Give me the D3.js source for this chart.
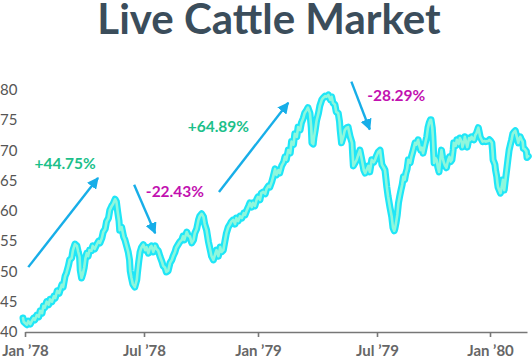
<!DOCTYPE html>
<html><head><meta charset="utf-8">
<script src="https://cdn.jsdelivr.net/npm/d3@7"></script>
<style>
html,body{margin:0;padding:0;background:#fff;}
svg{display:block;font-family:Lato,"Open Sans",sans-serif;}
</style></head>
<body>
<svg id="chart" width="532" height="361"></svg>
<script>
// Days since 1 Jan 1978 and settle price
const dayOffsets = [-3,-2,3,5,8,10,13,15,18,21,23,26,28,30,33,36,38,41,44,46,49,52,56,58,61,63,66,68,71,73,76,79,81,83,84,86,88,90,92,94,96,98,101,103,106,109,112,114,117,119,122,124,127,129,132,134,137,139,141,143,144,147,150,152,155,157,159,160,162,164,167,170,171,173,175,177,180,
183,185,188,191,193,196,199,201,204,207,210,212,215,217,220,223,226,228,231,233,236,239,242,244,246,250,253,255,258,261,263,266,269,271,274,277,279,282,285,288,290,293,296,298,301,304,306,309,312,314,317,320,322,325,328,330,333,336,339,342,344,347,350,352,355,357,360,363,
365,368,370,373,376,378,381,383,386,388,391,393,396,398,401,404,406,408,411,414,416,419,421,424,426,429,431,434,436,439,441,444,446,447,449,450,452,454,457,459,462,464,467,469,472,475,477,479,482,484,487,489,490,492,495,497,500,502,505,508,509,510,513,515,518,520,523,526,528,530,533,535,538,541,543,545,
548,551,554,557,559,562,564,567,570,572,574,575,577,579,581,583,585,587,589,591,593,595,597,600,602,605,608,610,613,615,617,619,621,624,627,629,631,633,634,636,637,638,639,641,643,645,647,649,651,653,655,657,659,662,664,666,668,670,671,674,676,679,681,684,685,688,689,691,693,695,696,698,700,702,704,706,708,711,712,714,716,718,721,723,727,729,
731,733,734,735,737,738,739,741,742,743,745,747,749,751,752,753,755,757,759,761,763,765,767,769,771,772,774,776,777,779,781,783,784,786,789,790,792];
const prices = [42.3,41.7,41.2,41.8,41.3,41.7,42.3,42.0,42.8,42.5,43.5,43.1,44.3,44.0,45.0,44.5,45.4,45.0,45.9,45.6,46.8,46.4,47.8,47.4,49.2,49.7,50.9,51.9,52.2,53.5,54.5,54.2,53.2,52.4,50.2,48.9,49.6,50.6,52.2,53.0,52.5,53.5,53.4,54.2,53.7,54.4,55.0,54.7,55.5,56.5,57.0,58.2,58.8,60.1,60.8,61.1,61.9,61.5,59.8,58.3,56.8,57.3,55.7,55.2,54.0,53.2,51.9,50.1,48.9,47.9,47.4,48.6,49.7,51.6,53.2,53.9,54.4,
53.5,54.0,53.0,54.0,54.2,53.2,54.2,53.7,53.4,52.4,51.6,50.9,50.6,49.9,50.1,51.4,51.9,52.5,53.2,53.9,54.4,54.9,55.2,55.8,55.2,56.5,55.8,55.8,54.7,55.2,56.3,57.0,58.5,59.1,59.5,59.0,57.8,56.8,54.9,53.5,52.5,51.9,52.9,53.5,52.5,54.0,53.2,53.5,55.2,56.3,57.3,57.8,58.2,58.5,57.8,58.8,58.3,59.1,58.8,59.6,59.3,60.1,60.8,61.3,60.6,61.3,60.8,61.9,
62.3,61.8,62.9,63.1,62.8,63.6,64.1,63.9,64.8,65.6,66.9,65.9,66.7,66.2,67.4,68.0,68.9,68.4,70.0,69.5,71.4,70.9,72.7,72.2,73.8,73.3,74.5,75.3,76.1,76.6,77.0,76.1,73.7,71.2,71.0,72.0,73.3,74.8,76.1,77.3,78.3,78.6,78.9,78.8,79.1,78.3,78.8,77.8,77.5,76.3,76.1,74.7,73.3,71.2,72.3,73.3,73.7,73.8,72.3,71.2,69.2,67.4,68.0,68.4,69.4,70.0,68.4,66.7,66.2,66.7,67.4,66.4,68.4,68.0,68.4,69.0,
69.7,70.0,67.6,67.1,66.7,63.9,62.4,60.6,59.0,57.2,56.7,57.0,58.0,59.3,61.3,62.4,63.4,64.3,65.6,65.1,66.2,66.9,68.4,67.9,68.9,70.0,71.2,70.9,71.7,70.7,70.0,70.4,69.5,70.9,72.2,73.7,74.5,75.0,75.0,73.7,72.2,70.0,67.9,68.7,68.4,67.2,66.4,68.4,70.0,68.7,67.9,67.4,67.1,68.4,68.9,68.1,68.4,70.0,71.2,70.7,71.7,71.0,72.0,71.4,70.5,71.5,72.2,71.4,70.5,71.5,72.0,71.7,72.2,71.8,71.7,72.5,72.8,73.7,73.2,72.2,71.8,71.4,71.5,71.4,71.5,71.7,
71.5,71.2,70.0,68.4,67.9,67.6,66.7,65.6,64.6,63.9,63.4,62.9,63.9,65.1,64.1,63.4,65.1,66.7,68.4,70.0,70.9,71.7,72.7,73.0,73.2,72.8,72.0,71.2,71.7,72.2,71.7,71.4,70.3,70.2,69.8,68.8,69.0];

const yTicks = [40,45,50,55,60,65,70,75,80];
const xTickDays = [0,181,365,546,730];
const xTickLabels = ["Jan \u201978","Jul \u201978","Jan \u201979","Jul \u201979","Jan \u201980"];

const annoTexts = ["+44.75%","-22.43%","+64.89%","-28.29%"];
const annoColors = ["#1cc08a","#c211b0","#1cc08a","#c211b0"];
const annoLabelDay = [61,184,301,531];
const annoLabelVal = [66.9,62.3,73.0,78.1];
const annoAnchor = ["middle","start","middle","start"];
const arrowFromDay = [5,166,302,507];
const arrowFromVal = [50.7,64.3,63.1,81.3];
const arrowToDay = [111,199,411,535];
const arrowToVal = [65.4,56.3,77.8,73.4];

const base = new Date(1978,0,1);
const toDate = d => d3.timeDay.offset(base, d);

const svg = d3.select("#chart");

const x = d3.scaleTime()
  .domain([0,181,365,546,730,790].map(toDate))
  .range([25,144,258,377,490,527]);
const y = d3.scaleLinear().domain([40,80]).range([332,89.5]);

// title
svg.append("text")
  .attr("x",269).attr("y",34)
  .attr("text-anchor","middle")
  .attr("font-size",42).attr("font-weight",700)
  .attr("fill","#3b4d5b")
  .text("Live Cattle Market");

// y labels
svg.append("g").selectAll("text").data(yTicks).join("text")
  .attr("x",0).attr("y",d=>y(d)).attr("dy","0.36em")
  .attr("font-size",15).attr("fill","#555")
  .text(d=>d);

// x axis
const xAxis = d3.axisBottom(x)
  .tickValues(xTickDays.map(toDate))
  .tickFormat((d,i)=>xTickLabels[i])
  .tickSize(5).tickSizeOuter(0).tickPadding(8);
const gx = svg.append("g").attr("transform","translate(0,332)").call(xAxis);
gx.select(".domain").attr("stroke","#777").attr("stroke-width",1.6);
gx.selectAll(".tick line").attr("stroke","#777").attr("stroke-width",1.6);
gx.selectAll(".tick text").attr("font-family","Lato, sans-serif").attr("font-size",15)
  .attr("font-weight",700).attr("fill","#666");

// line
const pts = dayOffsets.map((d,i)=>({date:toDate(d), v:prices[i]}));
const line = d3.line().x(d=>x(d.date)).y(d=>y(d.v)).curve(d3.curveLinear);
svg.append("path").datum(pts).attr("d",line)
  .attr("fill","none").attr("stroke","#1fe6f7").attr("stroke-width",7)
  .attr("stroke-linejoin","round").attr("stroke-linecap","round");
svg.append("path").datum(pts).attr("d",line)
  .attr("fill","none").attr("stroke","#8ff7dc").attr("stroke-width",2.6)
  .attr("stroke-linejoin","round").attr("stroke-linecap","round");

// arrows
const defs = svg.append("defs");
defs.append("marker").attr("id","ah").attr("viewBox","0 0 10 10")
  .attr("refX",9).attr("refY",5).attr("markerWidth",4.8).attr("markerHeight",4.8)
  .attr("markerUnits","strokeWidth").attr("orient","auto")
  .append("path").attr("d","M0,0 L10,5 L0,10 z").attr("fill","#17aee8");

svg.append("g").selectAll("line").data(arrowFromDay).join("line")
  .attr("x1",(d,i)=>x(toDate(d))).attr("y1",(d,i)=>y(arrowFromVal[i]))
  .attr("x2",(d,i)=>x(toDate(arrowToDay[i]))).attr("y2",(d,i)=>y(arrowToVal[i]))
  .attr("stroke","#17aee8").attr("stroke-width",2.4)
  .attr("marker-end","url(#ah)");

svg.append("g").selectAll("text").data(annoTexts).join("text")
  .attr("x",(d,i)=>x(toDate(annoLabelDay[i]))).attr("y",(d,i)=>y(annoLabelVal[i]))
  .attr("text-anchor",(d,i)=>annoAnchor[i])
  .attr("font-size",15.5).attr("font-weight",700)
  .attr("fill",(d,i)=>annoColors[i])
  .text(d=>d);
</script>
</body></html>
